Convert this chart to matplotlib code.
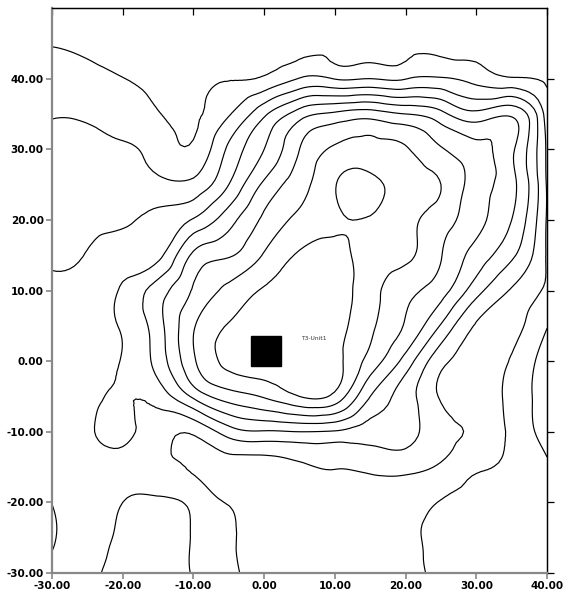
import numpy as np
import matplotlib
matplotlib.use("Agg")
import matplotlib.pyplot as plt
import matplotlib.tri as mtri
from matplotlib.ticker import FormatStrFormatter

# grid nodes (5 m spacing), one list per column
# each list runs from y = 50 (top) down to y = -30 (bottom)
x_nodes = [-30, -25, -20, -15, -10, -5, 0, 5, 10, 15, 20, 25, 30, 35, 40]
y_nodes = [50, 45, 40, 35, 30, 25, 20, 15, 10, 5, 0, -5, -10, -15, -20, -25, -30]

z_xm30 = [0.3, 0.95, 1.45, 1.95, 2.2, 2.45, 2.65, 2.9, 3.1, 3.3, 3.45, 3.5, 3.5, 3.4, 3.02, 2.9, 3.2]
z_xm25 = [0.3, 0.8, 1.3, 1.9, 2.15, 2.45, 2.75, 3.05, 3.35, 3.55, 3.7, 3.85, 3.9, 3.75, 3.5, 3.35, 3.3]
z_xm20 = [0.3, 0.6, 1.02, 1.6, 2.1, 2.5, 2.9, 3.4, 4.15, 4.1, 4.05, 4.05, 4.15, 3.6, 3.0, 2.8, 2.5]
z_xm15 = [0.3, 0.55, 0.75, 1.05, 1.6, 2.25, 3.2, 3.7, 5.5, 5.6, 5.4, 4.4, 3.5, 3.3, 2.9, 2.6, 2.6]
z_xm10 = [0.3, 0.5, 0.7, 0.85, 1.15, 2.3, 4.1, 6.2, 7.1, 7.9, 7.85, 6.2, 3.15, 2.9, 3.05, 3.05, 3.05]
z_xm05 = [0.3, 0.55, 0.95, 1.9, 3.2, 4.0, 5.6, 6.9, 8.3, 9.05, 9.25, 7.5, 4.5, 2.6, 2.95, 3.15, 3.2]
z_x00 = [0.3, 0.62, 1.15, 3.8, 5.0, 6.2, 7.2, 8.1, 9.1, 9.5, 9.5, 8.1, 4.9, 2.5, 2.35, 2.4, 2.5]
z_x05 = [0.35, 0.72, 2.05, 5.5, 7.0, 7.6, 8.25, 9.1, 9.5, 9.6, 9.5, 9.0, 5.0, 2.85, 2.3, 2.3, 2.4]
z_x10 = [0.4, 0.82, 1.95, 6.2, 8.15, 8.95, 8.85, 9.3, 9.4, 9.4, 9.3, 8.7, 4.9, 3.05, 2.2, 2.2, 2.3]
z_x15 = [0.4, 0.84, 2.0, 6.5, 8.35, 9.3, 8.9, 8.6, 8.4, 8.2, 7.6, 6.0, 4.5, 3.2, 2.3, 2.1, 2.2]
z_x20 = [0.4, 0.84, 1.95, 6.0, 8.1, 8.55, 8.3, 8.2, 7.3, 6.9, 5.6, 4.5, 4.4, 3.3, 2.4, 2.2, 2.3]
z_x25 = [0.4, 0.82, 2.1, 5.3, 7.1, 8.0, 7.5, 7.05, 6.4, 4.9, 3.3, 2.9, 3.35, 2.85, 1.95, 1.7, 1.75]
z_x30 = [0.35, 0.7, 1.65, 4.3, 6.3, 6.5, 6.3, 5.6, 4.4, 2.9, 2.6, 2.5, 2.85, 2.15, 1.75, 1.6, 1.6]
z_x35 = [0.3, 0.55, 1.1, 4.8, 5.2, 5.3, 5.0, 4.2, 2.9, 2.3, 1.9, 1.7, 1.75, 1.8, 1.6, 1.5, 1.5]
z_x40 = [0.3, 0.55, 0.85, 1.45, 1.85, 1.9, 1.9, 1.9, 1.85, 1.05, 0.5, 0.5, 0.7, 1.1, 1.3, 1.4, 1.4]

levels = [1, 2, 3, 4, 5, 6, 7, 8, 9]

# sample location
site_x = [0.25]
site_y = [1.45]
site_names = ["T3-Unit1"]

ticks_x = [-30, -20, -10, 0, 10, 20, 30, 40]
ticks_y = [-30, -20, -10, 0, 10, 20, 30, 40]

columns = [z_xm30, z_xm25, z_xm20, z_xm15, z_xm10, z_xm05, z_x00, z_x05,
           z_x10, z_x15, z_x20, z_x25, z_x30, z_x35, z_x40]
Z = np.array(columns).T
X, Y = np.meshgrid(x_nodes, y_nodes)

fig = plt.figure(figsize=(5.66, 5.99), dpi=100)
ax = fig.add_axes([0.0919, 0.0434, 0.8746, 0.9432])

# smooth the contours with matplotlib's own refiner
tri = mtri.Triangulation(X.ravel(), Y.ravel())
refiner = mtri.UniformTriRefiner(tri)
tri_fine, z_fine = refiner.refine_field(Z.ravel(), subdiv=3)
ax.tricontour(tri_fine, z_fine, levels=levels, colors="black", linewidths=0.85)

ax.plot(site_x, site_y, marker="s", markersize=21.5, color="black", linestyle="none")
for sx, sy, name in zip(site_x, site_y, site_names):
    ax.text(sx + 4.9, sy + 1.7, name, fontsize=4.3, color="#333333", va="center", ha="left")

ax.set_xlim(-30, 40)
ax.set_ylim(-30, 50)
ax.set_xticks(ticks_x)
ax.set_yticks(ticks_y)
ax.xaxis.set_major_formatter(FormatStrFormatter("%.2f"))
ax.yaxis.set_major_formatter(FormatStrFormatter("%.2f"))
for lab in ax.get_xticklabels() + ax.get_yticklabels():
    lab.set_fontweight("bold")
    lab.set_fontsize(7.5)
ax.tick_params(direction="out", length=4, width=1.2, color="#888888", pad=2)

for side in ["left", "bottom"]:
    ax.spines[side].set_color("#888888")
    ax.spines[side].set_linewidth(1.6)
for side in ["top", "right"]:
    ax.spines[side].set_color("black")
    ax.spines[side].set_linewidth(0.9)

top = ax.secondary_xaxis("top")
top.set_xticks(ticks_x)
top.tick_params(direction="in", length=5, width=0.9, labeltop=False)
top.spines["top"].set_linewidth(0.9)

right = ax.secondary_yaxis("right")
right.set_yticks(ticks_y)
right.tick_params(direction="out", length=5, width=0.9, labelright=False)
right.spines["right"].set_linewidth(0.9)

fig.savefig("out.png", dpi=100)
